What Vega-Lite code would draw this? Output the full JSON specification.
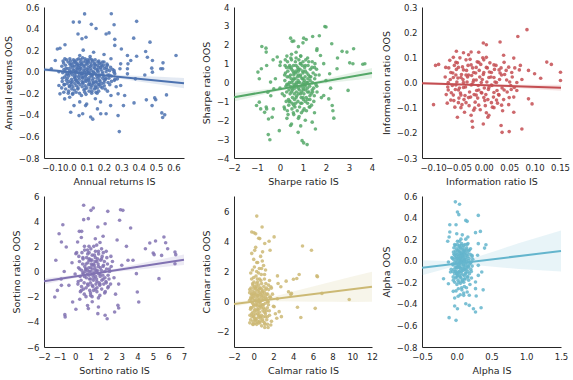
{
"$schema": "https://vega.github.io/schema/vega-lite/v6.json",
"background": "white",
"padding": {"left": 3, "top": 3, "right": 5, "bottom": 5},
"config": {
  "view": {"stroke": null},
  "font": "DejaVu Sans",
  "circle": {"size": 13, "opacity": 0.85},
  "axis": {"grid": false, "ticks": false, "domainColor": "#262626", "domainWidth": 1, "labelColor": "#262626", "titleColor": "#262626", "labelFont": "DejaVu Sans", "titleFont": "DejaVu Sans", "labelFontSize": 8.5, "titleFontSize": 9.5, "titleFontWeight": "normal", "labelPadding": 5, "titlePadding": 5, "labelOverlap": false, "labelFlush": false}
},
"datasets": {
  "p1": [{"x":0.088,"y":0.536},{"x":0.023,"y":0.46},{"x":0.058,"y":0.46},{"x":0.242,"y":0.537},{"x":0.127,"y":0.439},{"x":0.154,"y":0.40},{"x":0.388,"y":0.467},{"x":0.258,"y":0.435},{"x":0.05,"y":0.35},{"x":0.212,"y":0.35},{"x":0.229,"y":0.36},{"x":0.096,"y":0.32},{"x":0.073,"y":0.305},{"x":0.371,"y":0.311},{"x":0.465,"y":0.274},{"x":-0.025,"y":0.25},{"x":-0.069,"y":0.21},{"x":-0.054,"y":0.218},{"x":0.262,"y":0.30},{"x":0.262,"y":0.244},{"x":0.44,"y":0.187},{"x":0.615,"y":0.15},{"x":0.30,"y":0.21},{"x":0.335,"y":0.15},{"x":0.354,"y":0.104},{"x":0.388,"y":0.144},{"x":0.54,"y":0.082},{"x":0.538,"y":0.027},{"x":0.475,"y":0.033},{"x":0.435,"y":-0.03},{"x":0.381,"y":-0.066},{"x":0.335,"y":0.027},{"x":0.296,"y":0.073},{"x":0.292,"y":0.027},{"x":0.338,"y":0.073},{"x":0.258,"y":-0.004},{"x":-0.081,"y":0.104},{"x":-0.104,"y":0.027},{"x":-0.06,"y":-0.128},{"x":-0.054,"y":-0.205},{"x":-0.027,"y":-0.252},{"x":0.002,"y":-0.237},{"x":0.056,"y":-0.407},{"x":0.077,"y":-0.39},{"x":0.123,"y":-0.42},{"x":0.135,"y":-0.44},{"x":0.162,"y":-0.345},{"x":0.181,"y":-0.39},{"x":0.212,"y":-0.39},{"x":0.281,"y":-0.407},{"x":0.288,"y":-0.555},{"x":0.373,"y":-0.289},{"x":0.444,"y":-0.261},{"x":0.477,"y":-0.314},{"x":0.492,"y":-0.243},{"x":0.533,"y":-0.382},{"x":0.538,"y":-0.425},{"x":0.55,"y":-0.40},{"x":0.56,"y":-0.215},{"x":0.498,"y":-0.26},{"x":0.312,"y":-0.314},{"x":0.281,"y":-0.205},{"x":0.319,"y":-0.221},{"x":0.296,"y":-0.128},{"x":0.238,"y":-0.314},{"x":0.094,"y":-0.314},{"x":0.027,"y":-0.314},{"x":0.008,"y":-0.376},{"x":0.45,"y":0.134},{"x":0.479,"y":0.104},{"x":0.527,"y":0.027},{"x":0.479,"y":-0.004},{"x":0.335,"y":-0.02},{"x":0.277,"y":-0.066},
   {"x":0.00,"y":-0.02},{"x":0.02,"y":0.05},{"x":0.04,"y":-0.08},{"x":0.06,"y":0.02},{"x":0.08,"y":-0.05},{"x":0.10,"y":0.08},{"x":0.12,"y":-0.12},{"x":0.14,"y":0.00},{"x":0.16,"y":-0.06},{"x":0.18,"y":0.04},{"x":0.20,"y":-0.10},{"x":0.22,"y":0.06},{"x":0.05,"y":-0.15},{"x":0.09,"y":0.12},{"x":0.13,"y":-0.18},{"x":0.17,"y":0.10},{"x":0.03,"y":0.10},{"x":0.07,"y":-0.22},{"x":0.11,"y":-0.01},{"x":0.15,"y":-0.25},{"x":0.19,"y":-0.15},{"x":0.23,"y":-0.03},{"x":0.01,"y":-0.10},{"x":-0.02,"y":0.03},{"x":-0.04,"y":-0.06},{"x":0.06,"y":0.15},{"x":0.10,"y":-0.30},{"x":0.14,"y":0.18},{"x":0.24,"y":0.12},{"x":0.26,"y":-0.08},{"x":0.08,"y":0.20},{"x":0.12,"y":0.05},{"x":0.16,"y":-0.20},{"x":0.04,"y":0.00},{"x":0.00,"y":-0.14},{"x":0.20,"y":0.16},{"x":0.18,"y":-0.28},{"x":0.22,"y":-0.18},{"x":0.11,"y":-0.08},{"x":0.07,"y":0.07},{"x":0.13,"y":0.11},{"x":0.09,"y":-0.16},{"x":0.05,"y":0.04},{"x":0.15,"y":0.06},{"x":0.17,"y":-0.12},{"x":0.03,"y":-0.05},{"x":0.01,"y":0.07},{"x":0.25,"y":0.02},{"x":0.27,"y":-0.14},{"x":-0.03,"y":-0.12},{"x":-0.06,"y":0.00},{"x":0.02,"y":-0.20},{"x":0.06,"y":-0.28},{"x":0.10,"y":0.00},{"x":0.14,"y":-0.10},{"x":0.19,"y":0.00},{"x":0.21,"y":-0.06},{"x":0.08,"y":-0.10},{"x":0.12,"y":0.14},{"x":0.16,"y":0.02},{"x":0.04,"y":0.08},{"x":0.09,"y":0.03},{"x":0.13,"y":-0.04},{"x":0.11,"y":0.10},{"x":0.07,"y":-0.02},{"x":0.17,"y":-0.03},{"x":0.15,"y":-0.15},{"x":0.05,"y":-0.10},{"x":0.20,"y":0.09},{"x":0.24,"y":-0.22},
   {"x":-0.038,"y":-0.01},{"x":-0.043,"y":0.05},{"x":-0.041,"y":-0.09},{"x":-0.036,"y":0.10},{"x":-0.044,"y":-0.15},{"x":-0.031,"y":0.02},{"x":-0.027,"y":-0.05},{"x":-0.033,"y":0.08},{"x":-0.029,"y":-0.12},{"x":-0.032,"y":-0.19},{"x":-0.026,"y":0.12},{"x":-0.018,"y":-0.03},{"x":-0.022,"y":0.06},{"x":-0.017,"y":-0.08},{"x":-0.023,"y":0.00},{"x":-0.021,"y":-0.16},{"x":-0.016,"y":0.11},{"x":-0.008,"y":0.03},{"x":-0.012,"y":-0.06},{"x":-0.007,"y":0.09},{"x":-0.013,"y":-0.11},{"x":-0.011,"y":-0.02},{"x":-0.006,"y":-0.20},{"x":0.002,"y":0.01},{"x":-0.003,"y":-0.04},{"x":0.004,"y":0.07},{"x":-0.002,"y":-0.09},{"x":0.003,"y":0.12},{"x":0.001,"y":-0.13},{"x":-0.004,"y":-0.18},{"x":0.012,"y":-0.01},{"x":0.008,"y":0.04},{"x":0.013,"y":-0.07},{"x":0.007,"y":0.10},{"x":0.011,"y":-0.12},{"x":0.014,"y":-0.16},{"x":0.009,"y":0.00},{"x":0.022,"y":0.02},{"x":0.018,"y":-0.03},{"x":0.023,"y":0.08},{"x":0.017,"y":-0.09},{"x":0.021,"y":-0.14},{"x":0.024,"y":0.11},{"x":0.019,"y":-0.21},{"x":0.032,"y":-0.02},{"x":0.028,"y":0.05},{"x":0.033,"y":-0.06},{"x":0.027,"y":0.01},{"x":0.031,"y":-0.11},{"x":0.034,"y":0.09},{"x":0.029,"y":-0.17},{"x":0.042,"y":0.03},{"x":0.038,"y":-0.04},{"x":0.043,"y":0.06},{"x":0.037,"y":-0.08},{"x":0.041,"y":-0.13},{"x":0.044,"y":0.11},{"x":0.039,"y":-0.19},{"x":0.036,"y":0.00},{"x":0.052,"y":-0.01},{"x":0.048,"y":0.07},{"x":0.053,"y":-0.05},{"x":0.047,"y":0.02},{"x":0.051,"y":-0.10},{"x":0.054,"y":0.12},{"x":0.049,"y":-0.16},{"x":0.062,"y":0.04},{"x":0.058,"y":-0.03},{"x":0.063,"y":0.09},{"x":0.057,"y":-0.07},{"x":0.061,"y":-0.12},{"x":0.064,"y":0.00},{"x":0.059,"y":-0.20},{"x":0.056,"y":0.06},{"x":0.072,"y":-0.02},{"x":0.068,"y":0.03},{"x":0.073,"y":-0.09},{"x":0.067,"y":0.11},{"x":0.071,"y":-0.05},{"x":0.074,"y":-0.14},{"x":0.069,"y":0.07},{"x":0.082,"y":0.01},{"x":0.078,"y":-0.06},{"x":0.083,"y":0.05},{"x":0.077,"y":-0.11},{"x":0.081,"y":0.09},{"x":0.084,"y":-0.17},{"x":0.079,"y":-0.02},{"x":0.076,"y":0.13},{"x":0.092,"y":-0.04},{"x":0.088,"y":0.06},{"x":0.093,"y":-0.08},{"x":0.087,"y":0.00},{"x":0.091,"y":-0.13},{"x":0.094,"y":0.10},{"x":0.089,"y":-0.19},{"x":0.102,"y":0.02},{"x":0.098,"y":-0.03},{"x":0.103,"y":0.07},{"x":0.097,"y":-0.09},{"x":0.101,"y":-0.15},{"x":0.104,"y":0.11},{"x":0.099,"y":-0.06},{"x":0.096,"y":-0.21},{"x":0.112,"y":-0.01},{"x":0.108,"y":0.04},{"x":0.113,"y":-0.07},{"x":0.107,"y":0.09},{"x":0.111,"y":-0.12},{"x":0.114,"y":-0.18},{"x":0.109,"y":0.01},{"x":0.122,"y":0.03},{"x":0.118,"y":-0.05},{"x":0.123,"y":0.08},{"x":0.117,"y":-0.10},{"x":0.121,"y":-0.02},{"x":0.124,"y":-0.15},{"x":0.119,"y":0.12},{"x":0.132,"y":-0.03},{"x":0.128,"y":0.06},{"x":0.133,"y":-0.08},{"x":0.127,"y":0.01},{"x":0.131,"y":-0.13},{"x":0.134,"y":0.10},{"x":0.129,"y":-0.20},{"x":0.142,"y":0.04},{"x":0.138,"y":-0.06},{"x":0.143,"y":0.08},{"x":0.137,"y":-0.11},{"x":0.141,"y":-0.01},{"x":0.144,"y":-0.16},{"x":0.152,"y":-0.02},{"x":0.148,"y":0.03},{"x":0.153,"y":-0.09},{"x":0.147,"y":0.07},{"x":0.151,"y":-0.13},{"x":0.154,"y":-0.19},{"x":0.149,"y":0.11},{"x":0.162,"y":0.01},{"x":0.158,"y":-0.04},{"x":0.163,"y":0.06},{"x":0.157,"y":-0.10},{"x":0.161,"y":-0.15},{"x":0.164,"y":0.09},{"x":0.172,"y":-0.05},{"x":0.168,"y":0.04},{"x":0.173,"y":-0.08},{"x":0.167,"y":0.00},{"x":0.171,"y":-0.12},{"x":0.174,"y":0.08},{"x":0.169,"y":-0.18},{"x":0.182,"y":0.02},{"x":0.178,"y":-0.03},{"x":0.183,"y":0.07},{"x":0.177,"y":-0.09},{"x":0.181,"y":-0.14},{"x":0.192,"y":-0.06},{"x":0.188,"y":0.05},{"x":0.193,"y":-0.02},{"x":0.187,"y":-0.11},{"x":0.191,"y":0.09},{"x":0.202,"y":0.03},{"x":0.198,"y":-0.04},{"x":0.203,"y":-0.08},{"x":0.197,"y":0.06},{"x":0.201,"y":-0.13},{"x":0.212,"y":0.00},{"x":0.208,"y":-0.07},{"x":0.213,"y":0.04},{"x":0.207,"y":-0.16},{"x":0.222,"y":-0.03},{"x":0.218,"y":0.02},{"x":0.223,"y":-0.10},{"x":0.217,"y":0.07},{"x":0.232,"y":0.01},{"x":0.228,"y":-0.06},{"x":0.233,"y":-0.12},{"x":0.242,"y":-0.04},{"x":0.238,"y":0.04},{"x":0.243,"y":-0.09},{"x":0.262,"y":-0.02},{"x":0.258,"y":0.01},{"x":0.263,"y":-0.07}],
  "b1": [{"x":-0.146,"y":0.001,"y2":0.041},{"x":-0.05,"y":-0.008,"y2":0.020},{"x":0.05,"y":-0.020,"y2":0.000},{"x":0.15,"y":-0.036,"y2":-0.014},{"x":0.25,"y":-0.057,"y2":-0.025},{"x":0.35,"y":-0.079,"y2":-0.035},{"x":0.45,"y":-0.102,"y2":-0.042},{"x":0.55,"y":-0.126,"y2":-0.050},{"x":0.661,"y":-0.153,"y2":-0.059}],
  "l1": [{"x":-0.146,"y":0.021},{"x":0.661,"y":-0.106}],
  "p2": [{"x":1.95,"y":2.97},{"x":2.0,"y":2.94},{"x":0.46,"y":2.35},{"x":0.53,"y":2.18},{"x":1.03,"y":2.35},{"x":1.14,"y":2.28},{"x":1.42,"y":2.44},{"x":1.71,"y":2.48},{"x":2.25,"y":2.05},{"x":3.2,"y":1.79},{"x":2.7,"y":1.65},{"x":2.91,"y":1.61},{"x":3.03,"y":1.04},{"x":3.17,"y":0.99},{"x":3.6,"y":0.97},{"x":3.69,"y":0.99},{"x":-0.79,"y":1.91},{"x":-0.61,"y":1.82},{"x":-0.6,"y":1.61},{"x":-0.96,"y":0.55},{"x":-0.81,"y":0.73},{"x":-0.58,"y":0.9},{"x":-0.9,"y":-1.04},{"x":-1.02,"y":-1.22},{"x":-0.84,"y":-1.4},{"x":-0.67,"y":-1.58},{"x":-0.5,"y":-1.93},{"x":-0.34,"y":-1.84},{"x":-0.03,"y":-2.55},{"x":-0.51,"y":-2.76},{"x":-0.44,"y":-3.03},{"x":0.96,"y":-3.08},{"x":1.03,"y":-3.2},{"x":1.18,"y":-3.29},{"x":0.79,"y":-2.64},{"x":0.46,"y":-2.28},{"x":1.54,"y":-2.46},{"x":2.34,"y":-1.89},{"x":2.27,"y":-1.22},{"x":2.96,"y":-0.42},{"x":1.9,"y":-0.69},{"x":2.12,"y":-0.87},{"x":2.48,"y":0.73},{"x":2.16,"y":0.46},{"x":1.76,"y":1.43},{"x":1.61,"y":1.79},{"x":-0.12,"y":1.35},{"x":0.02,"y":1.08},{"x":-0.41,"y":0.02},{"x":-0.27,"y":-0.34},{"x":-0.53,"y":-0.51},{"x":-0.58,"y":-1.4},{"x":-0.29,"y":-1.4},
   {"x":0.6,"y":0.2},{"x":0.8,"y":-0.3},{"x":1.0,"y":0.5},{"x":0.7,"y":-0.8},{"x":0.9,"y":1.0},{"x":1.1,"y":-0.1},{"x":0.5,"y":-0.5},{"x":1.3,"y":0.3},{"x":0.4,"y":0.8},{"x":1.2,"y":-0.9},{"x":0.8,"y":0.0},{"x":0.6,"y":-1.2},{"x":1.0,"y":-1.5},{"x":0.9,"y":1.4},{"x":0.7,"y":0.6},{"x":1.4,"y":-0.4},{"x":0.3,"y":-0.1},{"x":0.5,"y":1.2},{"x":1.1,"y":0.9},{"x":1.5,"y":0.8},{"x":0.2,"y":0.4},{"x":0.8,"y":-1.9},{"x":1.3,"y":-1.3},{"x":0.6,"y":-1.7},{"x":1.6,"y":-0.2},{"x":0.4,"y":-1.0},{"x":1.0,"y":0.2},{"x":0.7,"y":1.6},{"x":1.2,"y":1.3},{"x":0.9,"y":-0.6},{"x":0.1,"y":-0.6},{"x":0.3,"y":1.4},{"x":1.7,"y":0.4},{"x":1.8,"y":-0.8},{"x":0.5,"y":0.0},{"x":1.1,"y":-2.0},{"x":0.2,"y":-1.4},{"x":0.0,"y":0.9},{"x":1.4,"y":1.1},{"x":0.8,"y":0.7},{"x":0.6,"y":-0.2},{"x":1.0,"y":-0.4},{"x":0.9,"y":0.3},{"x":0.7,"y":-0.1},{"x":1.2,"y":0.0},{"x":0.4,"y":0.3},{"x":1.3,"y":-0.7},{"x":0.5,"y":-2.2},{"x":0.9,"y":-2.3},{"x":1.5,"y":-1.6},{"x":0.0,"y":-0.3},{"x":-0.2,"y":0.2},{"x":-0.4,"y":-0.7},{"x":2.0,"y":0.1},{"x":2.2,"y":-0.3},{"x":1.9,"y":1.0},{"x":0.8,"y":1.9},{"x":1.0,"y":2.1},{"x":0.6,"y":2.2},{"x":1.6,"y":1.7},{"x":0.3,"y":-1.9},{"x":1.4,"y":-2.1},{"x":0.7,"y":0.9},{"x":1.1,"y":0.6},{"x":0.9,"y":-1.1},{"x":1.2,"y":-0.5},{"x":0.6,"y":0.5},{"x":0.8,"y":0.4},{"x":1.0,"y":-0.8},{"x":0.5,"y":0.7},{"x":-0.6,"y":-1.3},{"x":-0.9,"y":0.2},{"x":-0.3,"y":1.2},{"x":2.5,"y":1.3},{"x":2.3,"y":-1.5},
   {"x":0.21,"y":0.1},{"x":0.19,"y":-0.7},{"x":0.22,"y":0.9},{"x":0.18,"y":-1.3},{"x":0.26,"y":-0.2},{"x":0.24,"y":0.5},{"x":0.27,"y":-1.0},{"x":0.23,"y":1.2},{"x":0.31,"y":0.3},{"x":0.29,"y":-0.5},{"x":0.32,"y":-1.5},{"x":0.28,"y":0.8},{"x":0.36,"y":-0.1},{"x":0.34,"y":0.6},{"x":0.37,"y":-0.9},{"x":0.33,"y":1.1},{"x":0.35,"y":-1.7},{"x":0.41,"y":0.0},{"x":0.39,"y":-0.4},{"x":0.42,"y":0.9},{"x":0.38,"y":-1.2},{"x":0.46,"y":0.4},{"x":0.44,"y":-0.6},{"x":0.47,"y":1.3},{"x":0.43,"y":-1.0},{"x":0.45,"y":-0.2},{"x":0.51,"y":-0.3},{"x":0.49,"y":0.2},{"x":0.52,"y":-1.4},{"x":0.48,"y":0.8},{"x":0.5,"y":1.5},{"x":0.56,"y":0.1},{"x":0.54,"y":-0.8},{"x":0.57,"y":0.6},{"x":0.53,"y":-1.1},{"x":0.55,"y":-0.4},{"x":0.61,"y":-0.1},{"x":0.59,"y":0.9},{"x":0.62,"y":-0.6},{"x":0.58,"y":-1.6},{"x":0.6,"y":0.4},{"x":0.66,"y":0.2},{"x":0.64,"y":-0.3},{"x":0.67,"y":1.1},{"x":0.63,"y":-0.9},{"x":0.65,"y":-1.3},{"x":0.71,"y":-0.5},{"x":0.69,"y":0.5},{"x":0.72,"y":0.0},{"x":0.68,"y":-1.1},{"x":0.7,"y":1.3},{"x":0.76,"y":0.3},{"x":0.74,"y":-0.2},{"x":0.77,"y":0.8},{"x":0.73,"y":-0.7},{"x":0.75,"y":-1.5},{"x":0.81,"y":-0.6},{"x":0.79,"y":0.1},{"x":0.82,"y":1.2},{"x":0.78,"y":-1.0},{"x":0.8,"y":0.6},{"x":0.83,"y":-1.8},{"x":0.86,"y":0.0},{"x":0.84,"y":-0.4},{"x":0.87,"y":0.7},{"x":0.85,"y":-1.3},{"x":0.88,"y":1.0},{"x":0.91,"y":-0.2},{"x":0.89,"y":0.4},{"x":0.92,"y":-0.8},{"x":0.9,"y":1.4},{"x":0.93,"y":-1.6},{"x":0.96,"y":0.2},{"x":0.94,"y":-0.5},{"x":0.97,"y":0.9},{"x":0.95,"y":-1.1},{"x":0.98,"y":-0.1},{"x":1.01,"y":-0.3},{"x":0.99,"y":0.6},{"x":1.02,"y":-0.9},{"x":1.0,"y":1.1},{"x":1.03,"y":0.0},{"x":1.06,"y":0.1},{"x":1.04,"y":-0.6},{"x":1.07,"y":0.8},{"x":1.05,"y":-1.4},{"x":1.08,"y":-0.2},{"x":1.11,"y":-0.4},{"x":1.09,"y":0.3},{"x":1.12,"y":1.2},{"x":1.1,"y":-1.0},{"x":1.16,"y":0.0},{"x":1.14,"y":-0.8},{"x":1.17,"y":0.5},{"x":1.15,"y":-1.5},{"x":1.21,"y":0.2},{"x":1.19,"y":-0.3},{"x":1.22,"y":0.9},{"x":1.2,"y":-1.1},{"x":1.26,"y":-0.5},{"x":1.24,"y":0.4},{"x":1.27,"y":-1.3},{"x":1.25,"y":1.1},{"x":1.31,"y":0.1},{"x":1.29,"y":-0.2},{"x":1.32,"y":0.7},{"x":1.3,"y":-0.9},{"x":1.36,"y":-0.6},{"x":1.34,"y":0.3},{"x":1.37,"y":-1.2},{"x":1.41,"y":0.0},{"x":1.39,"y":0.8},{"x":1.42,"y":-0.5},{"x":1.46,"y":-0.3},{"x":1.44,"y":0.5},{"x":1.47,"y":-1.0},{"x":1.51,"y":0.2},{"x":1.49,"y":-0.7},{"x":1.52,"y":1.0},{"x":1.56,"y":-0.1},{"x":1.54,"y":0.4},{"x":1.61,"y":-0.5},{"x":1.59,"y":0.7}],
  "b2": [{"x":-2,"y":-1.00,"y2":-0.56},{"x":-1,"y":-0.717,"y2":-0.417},{"x":0,"y":-0.443,"y2":-0.263},{"x":0.8,"y":-0.253,"y2":-0.113},{"x":1.5,"y":-0.123,"y2":0.057},{"x":2.5,"y":0.02,"y2":0.34},{"x":3.2,"y":0.12,"y2":0.54},{"x":4,"y":0.23,"y2":0.77}],
  "l2": [{"x":-2,"y":-0.78},{"x":4,"y":0.50}],
  "p3": [{"x":0.085,"y":0.21},{"x":0.067,"y":0.183},{"x":0.032,"y":0.161},{"x":-0.001,"y":0.157},{"x":0.005,"y":0.15},{"x":-0.025,"y":0.121},{"x":-0.054,"y":0.124},{"x":-0.04,"y":0.118},{"x":0.124,"y":0.081},{"x":0.133,"y":0.072},{"x":0.151,"y":0.041},{"x":0.151,"y":0.008},{"x":0.112,"y":0.017},{"x":0.1,"y":0.035},{"x":0.088,"y":0.048},{"x":0.075,"y":0.012},{"x":-0.089,"y":0.072},{"x":-0.095,"y":0.068},{"x":-0.099,"y":-0.088},{"x":-0.052,"y":-0.138},{"x":-0.023,"y":-0.154},{"x":-0.022,"y":-0.178},{"x":-0.001,"y":-0.165},{"x":0.008,"y":-0.138},{"x":0.034,"y":-0.171},{"x":0.036,"y":-0.198},{"x":0.05,"y":-0.195},{"x":0.075,"y":-0.185},{"x":0.095,"y":-0.085},{"x":0.088,"y":-0.065},{"x":0.059,"y":-0.118},{"x":0.065,"y":-0.032},{"x":0.053,"y":-0.012},{"x":0.049,"y":0.061},{"x":0.072,"y":0.068},{"x":0.059,"y":0.097},{"x":0.039,"y":0.108},
   {"x":-0.06,"y":0.02},{"x":-0.05,"y":-0.03},{"x":-0.04,"y":0.05},{"x":-0.03,"y":-0.06},{"x":-0.02,"y":0.01},{"x":-0.01,"y":-0.09},{"x":0.00,"y":0.04},{"x":0.01,"y":-0.02},{"x":0.02,"y":0.07},{"x":0.03,"y":-0.05},{"x":-0.065,"y":-0.07},{"x":-0.055,"y":0.08},{"x":-0.045,"y":-0.10},{"x":-0.035,"y":0.09},{"x":-0.025,"y":-0.01},{"x":-0.015,"y":0.06},{"x":-0.005,"y":-0.04},{"x":0.005,"y":0.10},{"x":0.015,"y":-0.08},{"x":0.025,"y":0.00},{"x":0.035,"y":0.03},{"x":-0.07,"y":0.00},{"x":-0.06,"y":-0.05},{"x":-0.05,"y":0.06},{"x":-0.04,"y":-0.02},{"x":-0.03,"y":0.03},{"x":-0.02,"y":-0.11},{"x":-0.01,"y":0.08},{"x":0.00,"y":-0.06},{"x":0.01,"y":0.02},{"x":0.02,"y":-0.10},{"x":0.03,"y":0.05},{"x":0.04,"y":-0.03},{"x":-0.065,"y":0.04},{"x":-0.055,"y":-0.01},{"x":-0.045,"y":0.02},{"x":-0.035,"y":-0.08},{"x":-0.025,"y":0.07},{"x":-0.015,"y":-0.05},{"x":-0.005,"y":0.00},{"x":0.005,"y":-0.12},{"x":0.015,"y":0.04},{"x":0.025,"y":-0.07},{"x":0.045,"y":0.01},{"x":0.05,"y":-0.06},{"x":-0.06,"y":0.10},{"x":-0.05,"y":-0.08},{"x":-0.04,"y":0.00},{"x":-0.03,"y":0.11},{"x":-0.02,"y":0.04},{"x":-0.01,"y":-0.03},{"x":0.00,"y":0.09},{"x":0.01,"y":-0.13},{"x":0.02,"y":0.02},{"x":0.035,"y":-0.09},{"x":0.055,"y":0.04},{"x":0.06,"y":-0.02},{"x":-0.07,"y":-0.03},{"x":-0.075,"y":0.06},{"x":-0.055,"y":0.03},{"x":-0.045,"y":-0.05},{"x":-0.025,"y":-0.13},{"x":-0.015,"y":0.01},{"x":0.005,"y":0.06},{"x":0.015,"y":-0.01},{"x":0.04,"y":0.08},{"x":0.065,"y":0.00},{"x":0.07,"y":0.05},{"x":-0.035,"y":0.03},{"x":-0.01,"y":0.12},{"x":0.02,"y":-0.04},
   {"x":-0.076,"y":0.022},{"x":-0.074,"y":-0.048},{"x":-0.071,"y":-0.018},{"x":-0.069,"y":0.058},{"x":-0.072,"y":-0.082},{"x":-0.066,"y":0.012},{"x":-0.064,"y":-0.041},{"x":-0.067,"y":0.088},{"x":-0.061,"y":0.038},{"x":-0.059,"y":-0.072},{"x":-0.062,"y":-0.012},{"x":-0.058,"y":0.068},{"x":-0.056,"y":-0.028},{"x":-0.054,"y":0.052},{"x":-0.057,"y":-0.098},{"x":-0.053,"y":0.002},{"x":-0.051,"y":0.018},{"x":-0.049,"y":-0.062},{"x":-0.052,"y":0.078},{"x":-0.048,"y":-0.022},{"x":-0.046,"y":-0.042},{"x":-0.044,"y":0.032},{"x":-0.047,"y":0.098},{"x":-0.043,"y":-0.088},{"x":-0.041,"y":0.012},{"x":-0.039,"y":-0.068},{"x":-0.042,"y":0.062},{"x":-0.038,"y":-0.118},{"x":-0.036,"y":-0.018},{"x":-0.034,"y":0.048},{"x":-0.037,"y":-0.052},{"x":-0.033,"y":0.002},{"x":-0.031,"y":0.068},{"x":-0.029,"y":-0.092},{"x":-0.032,"y":0.022},{"x":-0.028,"y":-0.038},{"x":-0.026,"y":-0.058},{"x":-0.024,"y":0.028},{"x":-0.027,"y":0.092},{"x":-0.023,"y":-0.008},{"x":-0.021,"y":0.002},{"x":-0.019,"y":-0.048},{"x":-0.022,"y":0.058},{"x":-0.018,"y":-0.102},{"x":-0.016,"y":0.038},{"x":-0.014,"y":-0.032},{"x":-0.017,"y":-0.078},{"x":-0.013,"y":0.082},{"x":-0.011,"y":-0.012},{"x":-0.009,"y":0.048},{"x":-0.012,"y":-0.062},{"x":-0.008,"y":0.022},{"x":-0.006,"y":0.072},{"x":-0.004,"y":-0.042},{"x":-0.007,"y":-0.108},{"x":-0.003,"y":0.012},{"x":0.001,"y":-0.022},{"x":-0.001,"y":0.032},{"x":0.002,"y":-0.072},{"x":-0.002,"y":0.098},{"x":0.006,"y":0.002},{"x":0.004,"y":-0.048},{"x":0.007,"y":0.058},{"x":0.003,"y":-0.092},{"x":0.011,"y":0.042},{"x":0.009,"y":-0.028},{"x":0.012,"y":0.078},{"x":0.008,"y":-0.068},{"x":0.016,"y":-0.012},{"x":0.014,"y":0.022},{"x":0.017,"y":-0.098},{"x":0.021,"y":0.052},{"x":0.019,"y":-0.058},{"x":0.022,"y":0.002},{"x":0.026,"y":-0.032},{"x":0.024,"y":0.068},{"x":0.027,"y":-0.082},{"x":0.031,"y":0.012},{"x":0.029,"y":-0.048},{"x":0.032,"y":0.038},{"x":0.036,"y":-0.022},{"x":0.034,"y":0.058},{"x":0.037,"y":-0.112},{"x":0.041,"y":0.032},{"x":0.039,"y":-0.068},{"x":0.046,"y":-0.038},{"x":0.044,"y":0.048},{"x":0.051,"y":0.002},{"x":0.049,"y":-0.088},{"x":0.056,"y":0.022},{"x":0.054,"y":-0.028},{"x":0.061,"y":0.058},{"x":0.059,"y":-0.058}],
  "b3": [{"x":-0.1217,"y":-0.009,"y2":0.003},{"x":-0.05,"y":-0.0117,"y2":-0.0037},{"x":0.0,"y":-0.015,"y2":-0.007},{"x":0.05,"y":-0.0203,"y2":-0.0083},{"x":0.1,"y":-0.0266,"y2":-0.0086},{"x":0.152,"y":-0.033,"y2":-0.009}],
  "l3": [{"x":-0.1217,"y":-0.003},{"x":0.152,"y":-0.021}],
  "p4": [{"x":0.55,"y":5.26},{"x":1.17,"y":5.05},{"x":1.02,"y":4.86},{"x":2.1,"y":4.78},{"x":2.92,"y":4.91},{"x":3.07,"y":4.86},{"x":0.55,"y":4.12},{"x":0.85,"y":4.2},{"x":2.86,"y":4.07},{"x":1.46,"y":3.54},{"x":1.93,"y":3.8},{"x":3.57,"y":3.46},{"x":-0.79,"y":3.72},{"x":-1.03,"y":3.0},{"x":0.27,"y":3.19},{"x":0.42,"y":3.19},{"x":5.71,"y":2.74},{"x":5.17,"y":2.42},{"x":5.82,"y":2.29},{"x":5.95,"y":1.81},{"x":4.8,"y":2.26},{"x":4.52,"y":1.81},{"x":5.02,"y":1.47},{"x":5.08,"y":1.34},{"x":5.56,"y":1.28},{"x":6.42,"y":1.55},{"x":6.47,"y":1.34},{"x":6.42,"y":0.62},{"x":5.39,"y":-0.57},{"x":3.72,"y":0.89},{"x":3.4,"y":0.89},{"x":3.94,"y":-0.17},{"x":4.0,"y":-1.63},{"x":4.09,"y":-2.42},{"x":2.75,"y":-2.69},{"x":2.8,"y":-2.9},{"x":2.54,"y":-3.22},{"x":2.06,"y":-3.75},{"x":1.93,"y":-3.48},{"x":1.46,"y":-3.35},{"x":0.85,"y":-2.95},{"x":1.5,"y":-2.82},{"x":-0.66,"y":-3.43},{"x":-0.64,"y":-3.61},{"x":0.05,"y":-3.0},{"x":-0.16,"y":-2.42},{"x":-1.31,"y":-2.03},{"x":-1.14,"y":-1.5},{"x":-0.88,"y":-1.1},{"x":-1.24,"y":0.89},{"x":-0.88,"y":2.34},{"x":-0.57,"y":1.95},{"x":0.16,"y":2.34},{"x":0.05,"y":1.42},
   {"x":1.0,"y":0.3},{"x":1.2,"y":-0.5},{"x":1.4,"y":0.8},{"x":0.8,"y":-1.0},{"x":1.6,"y":-0.2},{"x":1.1,"y":1.3},{"x":0.9,"y":0.0},{"x":1.3,"y":-1.4},{"x":1.5,"y":1.6},{"x":0.7,"y":0.6},{"x":1.8,"y":0.4},{"x":0.6,"y":-0.4},{"x":2.0,"y":-0.9},{"x":1.7,"y":1.0},{"x":0.5,"y":1.1},{"x":1.2,"y":2.0},{"x":1.0,"y":-1.9},{"x":2.2,"y":0.2},{"x":0.4,"y":-1.5},{"x":1.9,"y":-1.7},{"x":1.4,"y":-0.8},{"x":0.8,"y":1.7},{"x":2.3,"y":1.2},{"x":1.1,"y":-2.4},{"x":0.3,"y":0.2},{"x":1.6,"y":2.3},{"x":2.5,"y":-0.5},{"x":0.2,"y":-0.8},{"x":1.3,"y":0.1},{"x":0.9,"y":0.9},{"x":1.5,"y":-2.1},{"x":0.6,"y":2.0},{"x":2.1,"y":-1.3},{"x":1.0,"y":-0.6},{"x":1.2,"y":0.6},{"x":0.7,"y":-2.0},{"x":1.8,"y":-0.6},{"x":1.4,"y":0.0},{"x":1.1,"y":-1.1},{"x":0.9,"y":1.5},{"x":1.7,"y":1.8},{"x":2.4,"y":0.8},{"x":2.6,"y":-1.8},{"x":0.1,"y":1.5},{"x":0.0,"y":-0.2},{"x":-0.2,"y":0.7},{"x":-0.4,"y":-1.1},{"x":3.0,"y":0.5},{"x":2.8,"y":-1.0},{"x":1.3,"y":2.6},{"x":0.8,"y":-2.7},{"x":1.5,"y":0.4},{"x":1.0,"y":0.9},{"x":1.9,"y":0.0},{"x":0.5,"y":-0.1},{"x":1.2,"y":-0.2},{"x":1.6,"y":-1.0},{"x":0.7,"y":0.2},{"x":2.0,"y":1.6},{"x":1.4,"y":-1.6},{"x":0.3,"y":-2.2},{"x":1.1,"y":0.5},{"x":0.9,"y":-0.3},{"x":1.3,"y":1.1},{"x":-0.7,"y":0.0},{"x":-0.9,"y":-0.6},{"x":3.3,"y":2.0},{"x":2.7,"y":2.5},{"x":1.8,"y":2.8},{"x":0.4,"y":2.7},
   {"x":0.22,"y":0.3},{"x":0.18,"y":-1.0},{"x":0.24,"y":1.2},{"x":0.32,"y":-0.4},{"x":0.28,"y":0.8},{"x":0.34,"y":-1.6},{"x":0.42,"y":0.1},{"x":0.38,"y":-0.7},{"x":0.44,"y":1.5},{"x":0.41,"y":-1.2},{"x":0.52,"y":-0.2},{"x":0.48,"y":0.6},{"x":0.54,"y":-1.4},{"x":0.51,"y":1.0},{"x":0.62,"y":0.4},{"x":0.58,"y":-0.9},{"x":0.64,"y":0.0},{"x":0.61,"y":1.7},{"x":0.59,"y":-1.8},{"x":0.72,"y":-0.5},{"x":0.68,"y":0.2},{"x":0.74,"y":1.1},{"x":0.71,"y":-1.3},{"x":0.82,"y":0.7},{"x":0.78,"y":-0.2},{"x":0.84,"y":-1.1},{"x":0.81,"y":1.4},{"x":0.79,"y":0.1},{"x":0.92,"y":-0.6},{"x":0.88,"y":0.3},{"x":0.94,"y":-1.5},{"x":0.91,"y":1.0},{"x":0.89,"y":2.0},{"x":1.02,"y":0.0},{"x":0.98,"y":-0.9},{"x":1.04,"y":0.6},{"x":1.01,"y":1.8},{"x":0.99,"y":-1.7},{"x":1.12,"y":-0.3},{"x":1.08,"y":0.9},{"x":1.14,"y":-1.2},{"x":1.11,"y":0.2},{"x":1.09,"y":-2.0},{"x":1.22,"y":0.5},{"x":1.18,"y":-0.7},{"x":1.24,"y":1.3},{"x":1.21,"y":-0.1},{"x":1.19,"y":-1.5},{"x":1.32,"y":-0.4},{"x":1.28,"y":0.3},{"x":1.34,"y":-1.0},{"x":1.31,"y":1.6},{"x":1.29,"y":0.8},{"x":1.42,"y":0.1},{"x":1.38,"y":-0.6},{"x":1.44,"y":1.0},{"x":1.41,"y":-1.3},{"x":1.39,"y":2.1},{"x":1.52,"y":-0.2},{"x":1.48,"y":0.6},{"x":1.54,"y":-0.9},{"x":1.51,"y":1.4},{"x":1.62,"y":0.3},{"x":1.58,"y":-1.1},{"x":1.64,"y":0.9},{"x":1.61,"y":-0.4},{"x":1.59,"y":-1.9},{"x":1.72,"y":-0.7},{"x":1.68,"y":0.1},{"x":1.74,"y":1.2},{"x":1.71,"y":-1.4},{"x":1.82,"y":0.5},{"x":1.78,"y":-0.3},{"x":1.84,"y":-1.0},{"x":1.81,"y":1.5},{"x":1.92,"y":-0.5},{"x":1.88,"y":0.8},{"x":1.94,"y":-1.6},{"x":2.02,"y":0.2},{"x":1.98,"y":-0.8},{"x":2.04,"y":1.1},{"x":2.12,"y":-0.3},{"x":2.08,"y":0.6},{"x":2.14,"y":-1.2},{"x":2.22,"y":0.0},{"x":2.18,"y":-0.6},{"x":2.32,"y":0.4},{"x":2.28,"y":-1.0}],
  "b4": [{"x":-2,"y":-1.03,"y2":-0.53},{"x":-1,"y":-0.759,"y2":-0.419},{"x":0,"y":-0.508,"y2":-0.288},{"x":1.2,"y":-0.249,"y2":-0.089},{"x":2.5,"y":-0.04,"y2":0.20},{"x":4,"y":0.147,"y2":0.587},{"x":5.5,"y":0.333,"y2":0.973},{"x":7,"y":0.52,"y2":1.36}],
  "l4": [{"x":-2,"y":-0.78},{"x":7,"y":0.94}],
  "p5": [{"x":0.31,"y":5.67},{"x":0.85,"y":4.95},{"x":-0.2,"y":4.62},{"x":0.03,"y":4.57},{"x":2.07,"y":4.29},{"x":1.56,"y":4.0},{"x":0.61,"y":4.18},{"x":1.12,"y":3.85},{"x":1.66,"y":3.41},{"x":4.95,"y":3.69},{"x":5.86,"y":3.41},{"x":4.61,"y":1.8},{"x":4.37,"y":1.54},{"x":4.03,"y":1.49},{"x":3.29,"y":1.36},{"x":6.41,"y":1.71},{"x":6.47,"y":1.65},{"x":2.41,"y":1.71},{"x":2.47,"y":1.21},{"x":1.73,"y":0.99},{"x":2.75,"y":0.99},{"x":3.53,"y":0.66},{"x":3.76,"y":0.48},{"x":3.83,"y":0.55},{"x":6.92,"y":0.55},{"x":9.69,"y":0.15},{"x":4.44,"y":-0.37},{"x":6.24,"y":-0.44},{"x":4.78,"y":-1.05},{"x":2.07,"y":-0.33},{"x":2.58,"y":-0.66},{"x":2.81,"y":-0.99},{"x":2.34,"y":-1.1},{"x":1.73,"y":-1.54},{"x":1.46,"y":-1.71},{"x":1.12,"y":-1.71},
   {"x":-0.3,"y":0.2},{"x":-0.2,"y":-0.8},{"x":-0.1,"y":1.2},{"x":0.0,"y":-0.3},{"x":0.1,"y":0.6},{"x":0.2,"y":-1.2},{"x":0.3,"y":2.0},{"x":0.4,"y":-0.5},{"x":0.5,"y":0.1},{"x":0.6,"y":1.5},{"x":0.7,"y":-1.0},{"x":0.8,"y":0.4},{"x":0.9,"y":-0.2},{"x":1.0,"y":2.4},{"x":1.1,"y":-1.4},{"x":1.2,"y":0.8},{"x":1.3,"y":-0.6},{"x":1.4,"y":0.0},{"x":1.5,"y":1.1},{"x":1.6,"y":-0.9},{"x":1.7,"y":0.3},{"x":1.8,"y":-1.3},{"x":-0.4,"y":-1.4},{"x":-0.3,"y":1.9},{"x":-0.2,"y":0.5},{"x":-0.1,"y":-1.5},{"x":0.0,"y":2.8},{"x":0.1,"y":-0.6},{"x":0.2,"y":0.9},{"x":0.3,"y":-1.5},{"x":0.4,"y":1.3},{"x":0.5,"y":-0.9},{"x":0.6,"y":0.0},{"x":0.7,"y":3.0},{"x":0.8,"y":-1.6},{"x":0.9,"y":0.7},{"x":1.0,"y":-0.4},{"x":1.1,"y":1.8},{"x":1.2,"y":-1.0},{"x":1.3,"y":0.5},{"x":1.4,"y":-1.5},{"x":1.6,"y":1.4},{"x":1.8,"y":0.9},{"x":2.0,"y":-0.3},{"x":-0.3,"y":-0.4},{"x":-0.2,"y":3.2},{"x":-0.1,"y":0.3},{"x":0.0,"y":1.6},{"x":0.1,"y":-1.1},{"x":0.2,"y":0.1},{"x":0.3,"y":-0.2},{"x":0.4,"y":2.6},{"x":0.5,"y":-1.4},{"x":0.6,"y":0.6},{"x":0.7,"y":-0.3},{"x":0.8,"y":1.2},{"x":0.9,"y":-1.2},{"x":1.0,"y":0.2},{"x":1.1,"y":-0.7},{"x":1.2,"y":2.1},{"x":0.0,"y":-1.0},{"x":0.2,"y":3.6},{"x":0.4,"y":0.4},{"x":0.6,"y":-1.3},{"x":0.8,"y":2.2},{"x":-0.1,"y":-0.1},{"x":0.3,"y":1.0},{"x":0.5,"y":0.8},{"x":0.7,"y":0.9},{"x":1.5,"y":-0.2},{"x":1.9,"y":0.5},{"x":2.2,"y":-0.8},{"x":2.4,"y":0.2},{"x":-0.4,"y":0.8},{"x":0.1,"y":3.4},{"x":0.9,"y":3.3},{"x":0.5,"y":4.2},{"x":0.2,"y":4.5},
   {"x":-0.42,"y":0.1},{"x":-0.38,"y":-0.9},{"x":-0.41,"y":0.6},{"x":-0.32,"y":-0.5},{"x":-0.28,"y":0.9},{"x":-0.31,"y":-1.2},{"x":-0.27,"y":0.3},{"x":-0.22,"y":0.0},{"x":-0.18,"y":-1.0},{"x":-0.21,"y":1.5},{"x":-0.17,"y":0.5},{"x":-0.23,"y":-0.4},{"x":-0.12,"y":0.7},{"x":-0.08,"y":-0.7},{"x":-0.11,"y":0.2},{"x":-0.07,"y":-1.3},{"x":-0.13,"y":2.1},{"x":-0.09,"y":1.1},{"x":-0.02,"y":-0.2},{"x":0.02,"y":0.4},{"x":-0.01,"y":-0.9},{"x":0.03,"y":1.3},{"x":-0.03,"y":-1.5},{"x":0.01,"y":0.9},{"x":0.08,"y":0.1},{"x":0.12,"y":-0.5},{"x":0.09,"y":1.0},{"x":0.13,"y":-1.2},{"x":0.07,"y":2.3},{"x":0.11,"y":0.5},{"x":0.18,"y":-0.8},{"x":0.22,"y":0.3},{"x":0.19,"y":-0.2},{"x":0.23,"y":1.7},{"x":0.17,"y":-1.4},{"x":0.21,"y":0.8},{"x":0.28,"y":0.0},{"x":0.32,"y":-0.6},{"x":0.29,"y":1.2},{"x":0.33,"y":-1.1},{"x":0.27,"y":0.5},{"x":0.31,"y":2.6},{"x":0.38,"y":-0.3},{"x":0.42,"y":0.7},{"x":0.39,"y":-1.3},{"x":0.43,"y":0.2},{"x":0.37,"y":1.5},{"x":0.41,"y":-0.8},{"x":0.48,"y":0.4},{"x":0.52,"y":-0.5},{"x":0.49,"y":1.9},{"x":0.53,"y":-1.0},{"x":0.47,"y":-0.1},{"x":0.51,"y":1.1},{"x":0.58,"y":-0.7},{"x":0.62,"y":0.2},{"x":0.59,"y":0.9},{"x":0.63,"y":-1.4},{"x":0.57,"y":2.2},{"x":0.61,"y":-0.3},{"x":0.68,"y":0.5},{"x":0.72,"y":-0.2},{"x":0.69,"y":-1.1},{"x":0.73,"y":1.4},{"x":0.67,"y":0.0},{"x":0.78,"y":-0.4},{"x":0.82,"y":0.8},{"x":0.79,"y":-0.9},{"x":0.83,"y":0.3},{"x":0.77,"y":1.8},{"x":0.88,"y":0.1},{"x":0.92,"y":-1.3},{"x":0.89,"y":0.6},{"x":0.93,"y":-0.6},{"x":0.87,"y":2.7},{"x":0.98,"y":-0.2},{"x":1.02,"y":1.0},{"x":0.99,"y":-1.0},{"x":1.03,"y":0.4},{"x":1.08,"y":0.6},{"x":1.12,"y":-0.5},{"x":1.09,"y":1.5},{"x":1.13,"y":-1.5},{"x":1.18,"y":-0.1},{"x":1.22,"y":0.3},{"x":1.19,"y":-0.8},{"x":1.23,"y":1.2},{"x":1.28,"y":0.2},{"x":1.32,"y":-1.2},{"x":1.29,"y":0.9},{"x":1.38,"y":-0.4},{"x":1.42,"y":0.5},{"x":1.39,"y":-1.0},{"x":1.48,"y":0.0},{"x":1.52,"y":0.8},{"x":1.58,"y":-0.6},{"x":1.62,"y":0.3}],
  "b5": [{"x":-2,"y":-0.35,"y2":0.05},{"x":-1,"y":-0.199,"y2":0.061},{"x":0,"y":-0.057,"y2":0.083},{"x":0.7,"y":0.01,"y2":0.13},{"x":2,"y":0.026,"y2":0.326},{"x":4,"y":0.009,"y2":0.669},{"x":6,"y":0.002,"y2":1.002},{"x":8,"y":-0.006,"y2":1.334},{"x":10,"y":-0.013,"y2":1.667},{"x":12,"y":-0.01,"y2":1.99}],
  "l5": [{"x":-2,"y":-0.15},{"x":12,"y":0.99}],
  "p6": [{"x":-0.02,"y":0.546},{"x":0.04,"y":0.523},{"x":0.01,"y":0.452},{"x":0.03,"y":0.427},{"x":0.31,"y":0.42},{"x":-0.1,"y":0.334},{"x":-0.01,"y":0.334},{"x":0.13,"y":0.374},{"x":0.15,"y":0.365},{"x":0.34,"y":0.272},{"x":0.27,"y":0.26},{"x":-0.1,"y":0.266},{"x":-0.11,"y":0.22},{"x":-0.13,"y":0.18},{"x":0.42,"y":0.148},{"x":0.4,"y":0.117},{"x":0.31,"y":0.158},{"x":-0.19,"y":-0.167},{"x":-0.12,"y":-0.213},{"x":-0.05,"y":-0.284},{"x":-0.03,"y":-0.346},{"x":-0.11,"y":-0.528},{"x":-0.01,"y":-0.553},{"x":-0.03,"y":-0.42},{"x":0.01,"y":-0.445},{"x":0.13,"y":-0.399},{"x":0.18,"y":-0.414},{"x":0.24,"y":-0.445},{"x":0.35,"y":-0.436},{"x":0.27,"y":-0.476},{"x":0.28,"y":-0.327},{"x":0.27,"y":-0.259},{"x":0.27,"y":-0.198},{"x":0.38,"y":-0.27},{"x":0.31,"y":-0.136},{"x":0.31,"y":-0.043},{"x":0.36,"y":-0.105},{"x":0.3,"y":0.05},{"x":0.23,"y":0.013},{"x":0.1,"y":-0.321},{"x":0.05,"y":-0.315},{"x":0.15,"y":-0.29},{"x":-0.09,"y":-0.105},{"x":-0.12,"y":-0.012},{"x":0.0,"y":-0.12},
   {"x":0.00,"y":0.02},{"x":0.02,"y":-0.05},{"x":0.04,"y":0.08},{"x":0.06,"y":-0.12},{"x":0.08,"y":0.00},{"x":0.10,"y":0.14},{"x":0.12,"y":-0.08},{"x":0.14,"y":0.05},{"x":0.16,"y":-0.15},{"x":0.18,"y":0.10},{"x":0.20,"y":-0.02},{"x":-0.02,"y":-0.10},{"x":-0.04,"y":0.06},{"x":-0.06,"y":-0.03},{"x":0.01,"y":0.18},{"x":0.03,"y":-0.20},{"x":0.05,"y":0.12},{"x":0.07,"y":-0.25},{"x":0.09,"y":0.04},{"x":0.11,"y":-0.17},{"x":0.13,"y":0.20},{"x":0.15,"y":-0.05},{"x":0.17,"y":0.00},{"x":0.19,"y":-0.22},{"x":-0.01,"y":-0.28},{"x":-0.03,"y":0.15},{"x":-0.05,"y":-0.18},{"x":0.00,"y":-0.06},{"x":0.02,"y":0.10},{"x":0.04,"y":-0.02},{"x":0.06,"y":0.20},{"x":0.08,"y":-0.18},{"x":0.10,"y":-0.04},{"x":0.12,"y":0.08},{"x":0.14,"y":-0.25},{"x":0.05,"y":0.00},{"x":0.07,"y":0.06},{"x":0.09,"y":-0.09},{"x":0.03,"y":0.04},{"x":0.01,"y":-0.14},{"x":-0.02,"y":0.09},{"x":0.11,"y":0.01},{"x":0.13,"y":-0.12},{"x":0.15,"y":0.15},{"x":0.06,"y":-0.07},{"x":0.04,"y":0.14},{"x":0.08,"y":0.24},{"x":0.00,"y":0.25},{"x":0.10,"y":-0.30},{"x":0.18,"y":-0.32},{"x":0.22,"y":0.04},{"x":0.21,"y":-0.10},{"x":-0.07,"y":0.03},{"x":-0.08,"y":-0.08},{"x":0.16,"y":0.22},{"x":0.02,"y":-0.33},{"x":0.05,"y":-0.15},{"x":0.07,"y":0.16},{"x":0.09,"y":0.10},{"x":0.11,"y":-0.24},{"x":0.03,"y":-0.10},{"x":0.12,"y":0.00},{"x":0.17,"y":-0.06},{"x":0.14,"y":0.10},{"x":0.06,"y":0.03},{"x":0.04,"y":-0.06},{"x":0.08,"y":-0.01},{"x":0.10,"y":0.07},
   {"x":-0.061,"y":0.02},{"x":-0.058,"y":-0.10},{"x":-0.052,"y":-0.04},{"x":-0.048,"y":0.08},{"x":-0.051,"y":-0.15},{"x":-0.042,"y":0.01},{"x":-0.038,"y":-0.08},{"x":-0.041,"y":0.12},{"x":-0.032,"y":-0.02},{"x":-0.028,"y":0.05},{"x":-0.031,"y":-0.12},{"x":-0.029,"y":-0.20},{"x":-0.022,"y":0.03},{"x":-0.018,"y":-0.06},{"x":-0.021,"y":0.14},{"x":-0.019,"y":-0.16},{"x":-0.012,"y":-0.03},{"x":-0.008,"y":0.07},{"x":-0.011,"y":-0.10},{"x":-0.009,"y":0.00},{"x":-0.002,"y":0.04},{"x":0.002,"y":-0.07},{"x":-0.001,"y":0.11},{"x":0.001,"y":-0.15},{"x":0.003,"y":-0.22},{"x":0.008,"y":-0.01},{"x":0.012,"y":0.06},{"x":0.011,"y":-0.12},{"x":0.009,"y":0.15},{"x":0.018,"y":0.02},{"x":0.022,"y":-0.04},{"x":0.021,"y":0.09},{"x":0.019,"y":-0.18},{"x":0.023,"y":-0.26},{"x":0.028,"y":-0.06},{"x":0.032,"y":0.01},{"x":0.031,"y":0.13},{"x":0.029,"y":-0.11},{"x":0.038,"y":0.05},{"x":0.042,"y":-0.02},{"x":0.041,"y":-0.14},{"x":0.039,"y":0.18},{"x":0.048,"y":-0.05},{"x":0.052,"y":0.08},{"x":0.051,"y":-0.09},{"x":0.049,"y":0.02},{"x":0.053,"y":-0.21},{"x":0.058,"y":0.00},{"x":0.062,"y":-0.16},{"x":0.061,"y":0.11},{"x":0.059,"y":0.06},{"x":0.068,"y":-0.03},{"x":0.072,"y":0.04},{"x":0.071,"y":-0.10},{"x":0.069,"y":0.14},{"x":0.073,"y":-0.27},{"x":0.078,"y":0.07},{"x":0.082,"y":-0.07},{"x":0.081,"y":0.01},{"x":0.079,"y":-0.19},{"x":0.088,"y":-0.01},{"x":0.092,"y":0.12},{"x":0.091,"y":-0.13},{"x":0.089,"y":0.05},{"x":0.098,"y":0.03},{"x":0.102,"y":-0.05},{"x":0.101,"y":-0.20},{"x":0.099,"y":0.09},{"x":0.108,"y":-0.08},{"x":0.112,"y":0.06},{"x":0.111,"y":0.00},{"x":0.109,"y":-0.14},{"x":0.118,"y":0.10},{"x":0.122,"y":-0.03},{"x":0.121,"y":-0.17},{"x":0.119,"y":0.15},{"x":0.128,"y":-0.06},{"x":0.132,"y":0.03},{"x":0.131,"y":-0.11},{"x":0.138,"y":0.01},{"x":0.142,"y":0.12},{"x":0.141,"y":-0.08},{"x":0.148,"y":-0.02},{"x":0.152,"y":-0.15},{"x":0.151,"y":0.07},{"x":0.158,"y":0.04},{"x":0.162,"y":-0.10},{"x":0.161,"y":0.16},{"x":0.168,"y":-0.05},{"x":0.172,"y":0.09},{"x":0.171,"y":-0.18},{"x":0.178,"y":0.02},{"x":0.182,"y":-0.12},{"x":0.188,"y":-0.03},{"x":0.192,"y":0.06},{"x":0.198,"y":0.11},{"x":0.202,"y":-0.08},{"x":0.208,"y":-0.01},{"x":0.212,"y":-0.16},{"x":0.218,"y":0.05},{"x":0.222,"y":-0.05}],
  "b6": [{"x":-0.5,"y":-0.135,"y2":0.005},{"x":-0.25,"y":-0.0906,"y2":-0.0006},{"x":0.05,"y":-0.0344,"y2":-0.0104},{"x":0.3,"y":-0.043,"y2":0.037},{"x":0.6,"y":-0.0597,"y2":0.1003},{"x":0.9,"y":-0.0765,"y2":0.1635},{"x":1.2,"y":-0.0882,"y2":0.2218},{"x":1.5,"y":-0.10,"y2":0.28}],
  "l6": [{"x":-0.5,"y":-0.065},{"x":1.5,"y":0.09}]
},
"columns": 3,
"spacing": {"row": 38, "column": 50},
"bounds": "flush",
"concat": [
  {"width": 140, "height": 151,
   "encoding": {"x": {"field": "x", "type": "quantitative", "scale": {"domain": [-0.146, 0.661], "nice": false, "zero": false}, "axis": {"values": [-0.1,0,0.1,0.2,0.3,0.4,0.5,0.6], "format": ".1f", "title": "Annual returns IS"}},
                "y": {"field": "y", "type": "quantitative", "scale": {"domain": [-0.8, 0.6], "nice": false, "zero": false}, "axis": {"values": [-0.8,-0.6,-0.4,-0.2,0,0.2,0.4,0.6], "format": ".1f", "title": "Annual returns OOS"}}},
   "layer": [
     {"data": {"name": "p1"}, "mark": {"type": "circle", "color": "#4C72B0"}},
     {"data": {"name": "b1"}, "mark": {"type": "area", "color": "#4C72B0", "opacity": 0.15}, "encoding": {"y2": {"field": "y2"}}},
     {"data": {"name": "l1"}, "mark": {"type": "line", "color": "#4C72B0", "strokeWidth": 2}}
   ]},
  {"width": 138, "height": 151,
   "encoding": {"x": {"field": "x", "type": "quantitative", "scale": {"domain": [-2, 4], "nice": false, "zero": false}, "axis": {"values": [-2,-1,0,1,2,3,4], "format": "d", "title": "Sharpe ratio IS"}},
                "y": {"field": "y", "type": "quantitative", "scale": {"domain": [-4, 4], "nice": false, "zero": false}, "axis": {"values": [-4,-3,-2,-1,0,1,2,3,4], "format": "d", "title": "Sharpe ratio OOS"}}},
   "layer": [
     {"data": {"name": "p2"}, "mark": {"type": "circle", "color": "#55A868"}},
     {"data": {"name": "b2"}, "mark": {"type": "area", "color": "#55A868", "opacity": 0.15}, "encoding": {"y2": {"field": "y2"}}},
     {"data": {"name": "l2"}, "mark": {"type": "line", "color": "#55A868", "strokeWidth": 2}}
   ]},
  {"width": 139, "height": 151,
   "encoding": {"x": {"field": "x", "type": "quantitative", "scale": {"domain": [-0.1217, 0.152], "nice": false, "zero": false}, "axis": {"values": [-0.1,-0.05,0,0.05,0.1,0.15], "format": ".2f", "title": "Information ratio IS"}},
                "y": {"field": "y", "type": "quantitative", "scale": {"domain": [-0.3, 0.3], "nice": false, "zero": false}, "axis": {"values": [-0.3,-0.2,-0.1,0,0.1,0.2,0.3], "format": ".1f", "title": "Information ratio OOS"}}},
   "layer": [
     {"data": {"name": "p3"}, "mark": {"type": "circle", "color": "#C44E52"}},
     {"data": {"name": "b3"}, "mark": {"type": "area", "color": "#C44E52", "opacity": 0.15}, "encoding": {"y2": {"field": "y2"}}},
     {"data": {"name": "l3"}, "mark": {"type": "line", "color": "#C44E52", "strokeWidth": 2}}
   ]},
  {"width": 140, "height": 151,
   "encoding": {"x": {"field": "x", "type": "quantitative", "scale": {"domain": [-2, 7], "nice": false, "zero": false}, "axis": {"values": [-2,-1,0,1,2,3,4,5,6,7], "format": "d", "title": "Sortino ratio IS"}},
                "y": {"field": "y", "type": "quantitative", "scale": {"domain": [-6, 6], "nice": false, "zero": false}, "axis": {"values": [-6,-4,-2,0,2,4,6], "format": "d", "title": "Sortino ratio OOS"}}},
   "layer": [
     {"data": {"name": "p4"}, "mark": {"type": "circle", "color": "#8172B2"}},
     {"data": {"name": "b4"}, "mark": {"type": "area", "color": "#8172B2", "opacity": 0.15}, "encoding": {"y2": {"field": "y2"}}},
     {"data": {"name": "l4"}, "mark": {"type": "line", "color": "#8172B2", "strokeWidth": 2}}
   ]},
  {"width": 138, "height": 151,
   "encoding": {"x": {"field": "x", "type": "quantitative", "scale": {"domain": [-2, 12], "nice": false, "zero": false}, "axis": {"values": [-2,0,2,4,6,8,10,12], "format": "d", "title": "Calmar ratio IS"}},
                "y": {"field": "y", "type": "quantitative", "scale": {"domain": [-3, 7], "nice": false, "zero": false}, "axis": {"values": [-2,0,2,4,6], "format": "d", "title": "Calmar ratio OOS"}}},
   "layer": [
     {"data": {"name": "p5"}, "mark": {"type": "circle", "color": "#CCB974"}},
     {"data": {"name": "b5"}, "mark": {"type": "area", "color": "#CCB974", "opacity": 0.15}, "encoding": {"y2": {"field": "y2"}}},
     {"data": {"name": "l5"}, "mark": {"type": "line", "color": "#CCB974", "strokeWidth": 2}}
   ]},
  {"width": 139, "height": 151,
   "encoding": {"x": {"field": "x", "type": "quantitative", "scale": {"domain": [-0.5, 1.5], "nice": false, "zero": false}, "axis": {"values": [-0.5,0,0.5,1,1.5], "format": ".1f", "title": "Alpha IS"}},
                "y": {"field": "y", "type": "quantitative", "scale": {"domain": [-0.8, 0.6], "nice": false, "zero": false}, "axis": {"values": [-0.8,-0.6,-0.4,-0.2,0,0.2,0.4,0.6], "format": ".1f", "title": "Alpha OOS"}}},
   "layer": [
     {"data": {"name": "p6"}, "mark": {"type": "circle", "color": "#64B5CD"}},
     {"data": {"name": "b6"}, "mark": {"type": "area", "color": "#64B5CD", "opacity": 0.15}, "encoding": {"y2": {"field": "y2"}}},
     {"data": {"name": "l6"}, "mark": {"type": "line", "color": "#64B5CD", "strokeWidth": 2}}
   ]}
]
}
